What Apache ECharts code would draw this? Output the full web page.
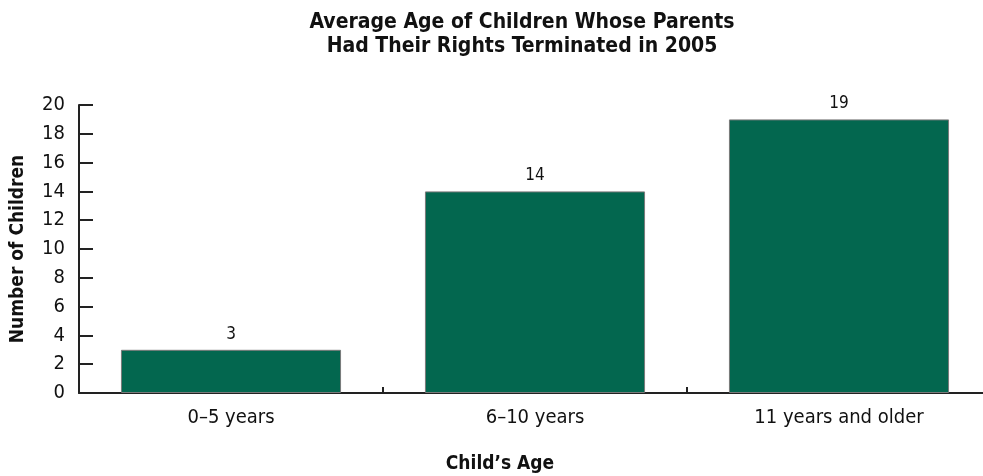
<!DOCTYPE html>
<html>
<head>
<meta charset="utf-8">
<script src="https://cdn.jsdelivr.net/npm/echarts@6/dist/echarts.min.js"></script>
<style>
  html, body { margin: 0; padding: 0; background: #ffffff; }
  #chart { width: 983px; height: 476px; }
</style>
</head>
<body>
<div id="chart"></div>
<script>
// Age groups and number of children in each
const categories = ['0\u20135 years', '6\u201310 years', '11 years and older'];
const childCounts = [3, 14, 19];
const yTicks = [0, 2, 4, 6, 8, 10, 12, 14, 16, 18, 20];

const FONT = '"Liberation Sans Narrow", "DejaVu Sans Condensed", "Roboto", sans-serif';
const INK = '#111111';

const chart = echarts.init(document.getElementById('chart'), null, { renderer: 'canvas' });

chart.setOption({
  backgroundColor: '#ffffff',
  animation: false,
  title: {
    text: 'Average Age of Children Whose Parents\nHad Their Rights Terminated in 2005',
    left: 517,
    top: 6,
    textAlign: 'center',
    textStyle: {
      fontFamily: FONT,
      fontWeight: 'bold',
      fontSize: 21,
      lineHeight: 24,
      color: INK
    }
  },
  grid: {
    left: 79,
    top: 105,
    width: 912,
    height: 288,
    outerBoundsMode: 'none',
    containLabel: false
  },
  xAxis: {
    type: 'category',
    data: categories,
    name: 'Child\u2019s Age',
    nameLocation: 'middle',
    nameGap: 62,
    nameTextStyle: {
      fontFamily: FONT,
      fontWeight: 'bold',
      fontSize: 19,
      color: INK,
      padding: [0, 70, 0, 0]
    },
    axisLine: { show: true, lineStyle: { color: '#222222', width: 2 } },
    axisTick: { show: true, inside: true, length: 6, alignWithLabel: false, lineStyle: { color: '#222222', width: 2 } },
    axisLabel: {
      fontFamily: FONT,
      fontSize: 20,
      color: INK,
      margin: 15
    },
    splitLine: { show: false }
  },
  yAxis: {
    type: 'value',
    min: yTicks[0],
    max: yTicks[yTicks.length - 1],
    interval: yTicks[1] - yTicks[0],
    name: 'Number of Children',
    nameLocation: 'middle',
    nameGap: 51,
    nameRotate: 90,
    nameTextStyle: {
      fontFamily: FONT,
      fontWeight: 'bold',
      fontSize: 19,
      color: INK
    },
    axisLine: { show: true, lineStyle: { color: '#222222', width: 2 } },
    axisTick: { show: true, inside: true, length: 14, lineStyle: { color: '#222222', width: 2 } },
    axisLabel: {
      fontFamily: FONT,
      fontSize: 20,
      color: INK,
      margin: 14
    },
    splitLine: { show: false }
  },
  series: [{
    type: 'bar',
    data: childCounts,
    barCategoryGap: '27.6%',
    itemStyle: {
      color: '#03674f',
      borderColor: '#7a7a7a',
      borderWidth: 1
    },
    label: {
      show: true,
      position: 'top',
      distance: 7,
      fontFamily: FONT,
      fontSize: 17,
      color: INK
    }
  }]
});
</script>
</body>
</html>
